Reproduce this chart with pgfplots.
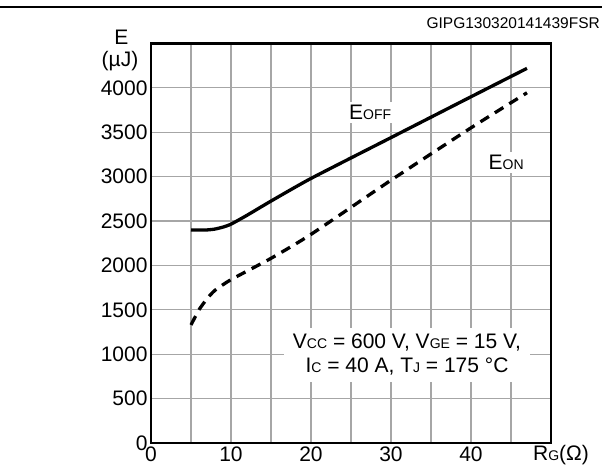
\documentclass[border=0pt]{standalone}
\usepackage{pgfplots}
\pgfplotsset{compat=1.18}
\usepackage{fontspec}
\setmainfont{Liberation Sans}
\newcommand\sm[1]{{\fontsize{14}{14}\selectfont #1}}
\newcommand\bigfont{\fontsize{21}{24}\selectfont}

\begin{document}
\begin{tikzpicture}[x=1pt,y=1pt]
\useasboundingbox (0,0) rectangle (602,468);
\fill (0,460) rectangle (602,462.3);
\node[anchor=east, font=\fontsize{15.5}{16}\selectfont, inner sep=0] at (600,445) {GIPG130320141439FSR};
\node[font=\bigfont, inner sep=0] at (121.5,430.5) {E};
\node[font=\bigfont, inner sep=0] at (120,407) {(µJ)};
\node[font=\bigfont, inner sep=0] at (561,13) {R\sm{G}(Ω)};
\begin{axis}[
    at={(151pt,25pt)}, anchor=south west,
    width=400pt, height=399.5pt, scale only axis,
    xmin=0, xmax=50, ymin=0, ymax=4500,
    xtick={0,5,...,45}, xticklabels={0,,10,,20,,30,,40,},
    ytick={0,500,...,4000},
    major tick length=0pt,
    grid=major,
    grid style={gray!70, line width=1.2pt},
    axis line style={line width=2.6pt},
    ticklabel style={font=\bigfont},
    /pgf/number format/assume math mode=true,
    /pgf/number format/1000 sep={},
]
% E_off
\addplot[black, line width=3.3pt, smooth, tension=0.35] coordinates {
(5,2400) (7,2400) (8,2410) (9,2432) (10,2465) (12,2565) (15,2725) (20,2980)
(30,3440) (40,3900) (47,4220)};
% E_on
\addplot[black, line width=3.3pt, dash pattern=on 10pt off 7pt, smooth, tension=0.35] coordinates {
(5,1330) (6,1500) (7,1625) (8,1720) (10,1840) (15,2080) (20,2350)
(30,2960) (40,3550) (47,3945)};
\node[fill=white, font=\bigfont, inner sep=3pt] at (axis cs:27.4,3725) {E\sm{OFF}};
\node[fill=white, font=\bigfont, inner sep=3pt] at (axis cs:44.4,3160) {E\sm{ON}};
\node[fill=white, font=\bigfont, align=center, inner xsep=9pt, inner ysep=6pt] at (axis cs:32,993)
  {V\sm{CC} = 600 V, V\sm{GE} = 15 V,\\I\sm{C} = 40 A, T\sm{J} = 175 °C};
\end{axis}
\end{tikzpicture}
\end{document}
